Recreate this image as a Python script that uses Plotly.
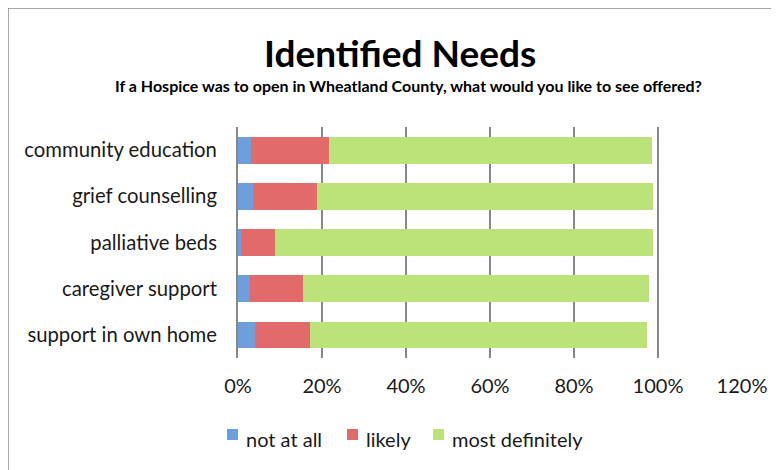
import plotly.graph_objects as go

categories = ["community education", "grief counselling", "palliative beds",
              "caregiver support", "support in own home"]
not_at_all = [3.1, 3.5, 0.7, 2.8, 4.0]
likely = [18.5, 15.4, 8.2, 12.6, 13.2]
most_definitely = [76.9, 79.8, 89.8, 82.4, 80.2]
series_names = ["not at all", "likely", "most definitely"]
series_colors = ["#6E9FDD", "#E36A6A", "#BCE27A"]
tick_vals = [0, 20, 40, 60, 80, 100, 120]
tick_text = ["0%", "20%", "40%", "60%", "80%", "100%", "120%"]

FONT = "Lato, Open Sans, sans-serif"
OFF = 8  # default page body margin
W, H = 779 - OFF, 470 - OFF
# page-pixel positions of plot area
PL, PR, PT, PB = 238, 742, 127, 358
L, R, T, B = PL - OFF, W - (PR - OFF), PT - OFF, H - (PB - OFF)
PW, PH = W - L - R, H - T - B

def px(x):
    return (x - OFF - L) / PW

def py(y):
    return 1 - (y - OFF - T) / PH

fig = go.Figure()
for name, vals, col in zip(series_names, [not_at_all, likely, most_definitely], series_colors):
    fig.add_trace(go.Bar(
        y=categories, x=vals, name=name, orientation="h",
        marker=dict(color=col, line=dict(width=0)),
    ))

annotations = [
    dict(text="<b>Identified Needs</b>", xref="paper", yref="paper",
         x=px(400), y=py(52), xanchor="center", yanchor="middle",
         showarrow=False, font=dict(size=37, family=FONT, color="black")),
    dict(text="<b>If a Hospice was to open in Wheatland County, what would you like to see offered?</b>",
         xref="paper", yref="paper",
         x=px(408), y=py(86), xanchor="center", yanchor="middle",
         showarrow=False, font=dict(size=16, family=FONT, color="black")),
]
shapes = [
    dict(type="line", xref="paper", yref="paper",
         x0=px(7.5), x1=px(7.5), y0=py(6), y1=py(490),
         line=dict(color="#8a8a8a", width=2.5)),
    dict(type="line", xref="paper", yref="paper",
         x0=px(6.5), x1=px(800), y0=py(7.5), y1=py(7.5),
         line=dict(color="#8a8a8a", width=2.5)),
]
# custom legend (square then label)
legend_sq_x = [227, 347, 433]
for name, col, sx in zip(series_names, series_colors, legend_sq_x):
    shapes.append(dict(type="rect", xref="paper", yref="paper",
                       x0=px(sx), x1=px(sx + 11), y0=py(429), y1=py(440),
                       fillcolor=col, line=dict(width=0)))
    annotations.append(dict(text=name, xref="paper", yref="paper",
                            x=px(sx + 17), y=py(439), xanchor="left", yanchor="middle",
                            showarrow=False, font=dict(size=20, family=FONT, color="#1a1a1a")))

fig.update_layout(
    barmode="stack",
    bargap=0.42,
    width=W, height=H,
    margin=dict(l=L, r=R, t=T, b=B, autoexpand=False),
    paper_bgcolor="white",
    plot_bgcolor="white",
    font=dict(family=FONT, color="#1a1a1a", size=20),
    showlegend=False,
    xaxis=dict(range=[0, 120], tickvals=tick_vals, ticktext=tick_text,
               showgrid=True, gridcolor="#888888", gridwidth=2,
               zeroline=False, showline=False, ticks="", automargin=False,
               tickfont=dict(size=20, family=FONT), ticklabelstandoff=14),
    yaxis=dict(categoryorder="array", categoryarray=categories, autorange="reversed",
               showline=True, linecolor="#888888", linewidth=2, ticks="", automargin=False,
               tickfont=dict(size=20.3, family=FONT), ticklabelstandoff=15,
               showgrid=False),
    annotations=annotations,
    shapes=shapes,
)

fig.write_html("out.html")
